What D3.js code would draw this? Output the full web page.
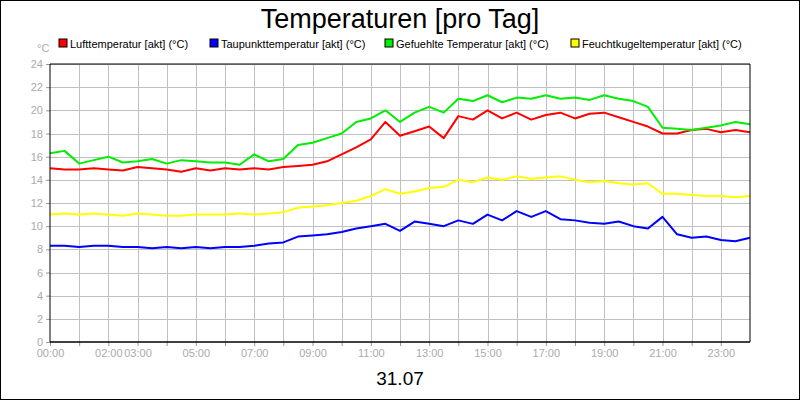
<!DOCTYPE html>
<html>
<head>
<meta charset="utf-8">
<script src="https://cdn.jsdelivr.net/npm/d3@7"></script>
<style>
body { margin: 0; background: #fff; }
svg { display: block; font-family: "Liberation Sans", Arial, sans-serif; }
</style>
</head>
<body>
<div id="chart"></div>
<script>
// half-hourly readings, 00:00 .. 24:00
const hours = d3.range(0, 24.01, 0.5);
const luft = [15.0,14.9,14.9,15.0,14.9,14.8,15.1,15.0,14.9,14.7,15.0,14.8,15.0,14.9,15.0,14.9,15.1,15.2,15.3,15.6,16.2,16.8,17.5,19.0,17.8,18.2,18.6,17.6,19.5,19.2,20.0,19.3,19.8,19.2,19.6,19.8,19.3,19.7,19.8,19.4,19.0,18.6,18.0,18.0,18.3,18.4,18.1,18.3,18.1];
const taupunkt = [8.3,8.3,8.2,8.3,8.3,8.2,8.2,8.1,8.2,8.1,8.2,8.1,8.2,8.2,8.3,8.5,8.6,9.1,9.2,9.3,9.5,9.8,10.0,10.2,9.6,10.4,10.2,10.0,10.5,10.2,11.0,10.5,11.3,10.8,11.3,10.6,10.5,10.3,10.2,10.4,10.0,9.8,10.8,9.3,9.0,9.1,8.8,8.7,9.0];
const gefuehlt = [16.3,16.5,15.4,15.7,16.0,15.5,15.6,15.8,15.4,15.7,15.6,15.5,15.5,15.3,16.2,15.6,15.8,17.0,17.2,17.6,18.0,19.0,19.3,20.0,19.0,19.8,20.3,19.8,21.0,20.8,21.3,20.7,21.1,21.0,21.3,21.0,21.1,20.9,21.3,21.0,20.8,20.3,18.5,18.4,18.3,18.5,18.7,19.0,18.8];
const feucht = [11.0,11.1,11.0,11.1,11.0,10.9,11.1,11.0,10.9,10.9,11.0,11.0,11.0,11.1,11.0,11.1,11.2,11.6,11.7,11.8,12.0,12.2,12.6,13.2,12.8,13.0,13.3,13.4,14.0,13.8,14.2,14.0,14.3,14.1,14.2,14.3,14.0,13.8,13.9,13.7,13.6,13.7,12.8,12.8,12.7,12.6,12.6,12.5,12.6];

const seriesNames = ["Lufttemperatur [akt] (°C)", "Taupunkttemperatur [akt] (°C)", "Gefuehlte Temperatur [akt] (°C)", "Feuchtkugeltemperatur [akt] (°C)"];
const seriesColors = ["#ff0000", "#0000ff", "#00ee00", "#ffff00"];
const seriesData = [luft, taupunkt, gefuehlt, feucht];
const xLabelHours = [0, 2, 3, 5, 7, 9, 11, 13, 15, 17, 19, 21, 23];
const yTicks = d3.range(0, 25, 2);

const width = 800, height = 400;
const margin = { top: 64, right: 50, bottom: 58, left: 50 };

const svg = d3.select("#chart").append("svg")
    .attr("width", width).attr("height", height);

svg.append("rect").attr("x", 0.5).attr("y", 0.5)
    .attr("width", width - 1).attr("height", height - 1)
    .attr("fill", "#fff").attr("stroke", "#000");

const x = d3.scaleLinear().domain([0, 24]).range([margin.left, width - margin.right]);
const y = d3.scaleLinear().domain([0, 24]).range([height - margin.bottom, margin.top]);

// grid
svg.append("g").selectAll("line").data(d3.range(1, 24)).join("line")
    .attr("x1", d => Math.round(x(d)) + 0.5).attr("x2", d => Math.round(x(d)) + 0.5)
    .attr("y1", y(24)).attr("y2", y(0))
    .attr("stroke", "#c0c0c0");
svg.append("g").selectAll("line").data(yTicks.slice(1)).join("line")
    .attr("x1", x(0)).attr("x2", x(24))
    .attr("y1", d => Math.round(y(d)) + 0.5).attr("y2", d => Math.round(y(d)) + 0.5)
    .attr("stroke", "#c0c0c0");

// axes
const xAxis = svg.append("g")
    .attr("transform", `translate(0,${y(0)})`)
    .call(d3.axisBottom(x).tickValues(d3.range(0, 24)).tickSize(4).tickPadding(3)
        .tickFormat(d => xLabelHours.includes(d) ? String(d).padStart(2, "0") + ":00" : ""));
const yAxis = svg.append("g")
    .attr("transform", `translate(${x(0)},0)`)
    .call(d3.axisLeft(y).tickValues(yTicks).tickSize(4).tickPadding(3));
[xAxis, yAxis].forEach(a => {
    a.select(".domain").remove();
    a.selectAll("line").attr("stroke", "#999");
    a.selectAll("text").attr("fill", "#aaa").style("font-size", "11px");
});

// lines
const line = d3.line().x((d, i) => x(hours[i])).y(d => y(d));
svg.append("g").selectAll("path").data(seriesData).join("path")
    .attr("d", line).attr("fill", "none")
    .attr("stroke", (d, i) => seriesColors[i]).attr("stroke-width", 2)
    .attr("stroke-linejoin", "round");

// plot frame
svg.append("line").attr("x1", x(0)).attr("x2", x(0)).attr("y1", y(24)).attr("y2", y(0)).attr("stroke", "#000");
svg.append("line").attr("x1", x(0)).attr("x2", x(24)).attr("y1", y(24)).attr("y2", y(24)).attr("stroke", "#000");
svg.append("line").attr("x1", x(24)).attr("x2", x(24)).attr("y1", y(24)).attr("y2", y(0)).attr("stroke", "#000");
svg.append("line").attr("x1", x(0)).attr("x2", x(24)).attr("y1", y(0)).attr("y2", y(0)).attr("stroke", "#000").attr("stroke-width", 1.5);

// title
svg.append("text").attr("x", 400).attr("y", 28).attr("text-anchor", "middle")
    .style("font-size", "27px").text("Temperaturen [pro Tag]");
svg.append("text").attr("x", 400).attr("y", 385).attr("text-anchor", "middle")
    .style("font-size", "19px").text("31.07");
svg.append("text").attr("x", 37).attr("y", 52)
    .attr("fill", "#aaa").style("font-size", "11px").text("°C");

// legend
const legendX = [59, 210, 385, 571];
const legend = svg.append("g").selectAll("g").data(seriesNames).join("g")
    .attr("transform", (d, i) => `translate(${legendX[i]},39)`);
legend.append("rect").attr("width", 8).attr("height", 8)
    .attr("fill", (d, i) => seriesColors[i]).attr("stroke", "#000");
legend.append("text").attr("x", 11).attr("y", 8.5)
    .style("font-size", "11px").text(d => d);
</script>
</body>
</html>
